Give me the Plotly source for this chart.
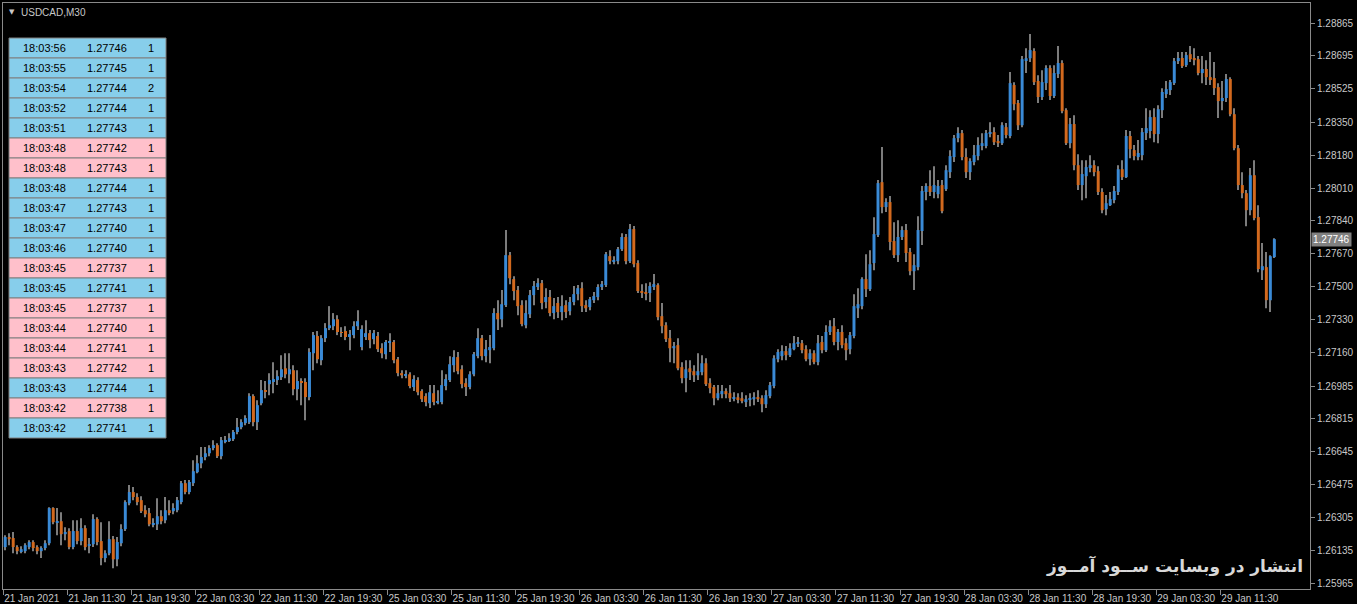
import plotly.graph_objects as go

# ---------------- data ----------------
opens = [1.26151,1.26203,1.26198,1.26151,1.26130,1.26130,1.26151,1.26177,1.26151,1.26130,
1.26146,1.26171,1.26353,1.26280,1.26285,1.26218,1.26234,1.26151,1.26234,1.26182,
1.26249,1.26161,1.26166,1.26296,1.26182,1.26094,1.26119,1.26192,1.26088,1.26171,
1.26244,1.26378,1.26436,1.26410,1.26394,1.26342,1.26327,1.26269,1.26269,1.26311,
1.26290,1.26342,1.26337,1.26342,1.26384,1.26482,1.26436,1.26482,1.26539,1.26585,
1.26617,1.26637,1.26664,1.26679,1.26622,1.26700,1.26705,1.26710,1.26747,1.26772,
1.26793,1.26798,1.26933,1.26798,1.26896,1.26964,1.26995,1.27006,1.27016,1.27031,
1.27077,1.27046,1.27067,1.26969,1.27011,1.27006,1.26928,1.27155,1.27244,1.27119,
1.27233,1.27285,1.27295,1.27331,1.27265,1.27270,1.27239,1.27249,1.27295,1.27187,
1.27239,1.27259,1.27228,1.27244,1.27181,1.27150,1.27213,1.27213,1.27124,1.27052,
1.27041,1.27046,1.26980,1.27016,1.26959,1.26933,1.26896,1.26948,1.26902,1.26902,
1.26985,1.27016,1.27093,1.27135,1.27072,1.27000,1.26980,1.27046,1.27140,1.27233,
1.27140,1.27171,1.27181,1.27363,1.27331,1.27404,1.27663,1.27539,1.27482,1.27404,
1.27300,1.27357,1.27456,1.27498,1.27518,1.27420,1.27446,1.27363,1.27415,1.27368,
1.27404,1.27373,1.27420,1.27461,1.27492,1.27404,1.27394,1.27430,1.27446,1.27498,
1.27508,1.27658,1.27632,1.27632,1.27694,1.27757,1.27632,1.27798,1.27622,1.27477,
1.27472,1.27467,1.27498,1.27508,1.27347,1.27300,1.27233,1.27181,1.27197,1.27083,
1.27026,1.27077,1.27062,1.27041,1.27057,1.27103,1.27000,1.26980,1.26922,1.26943,
1.26959,1.26948,1.26922,1.26927,1.26922,1.26902,1.26917,1.26917,1.26928,1.26922,
1.26891,1.26933,1.26985,1.27124,1.27140,1.27166,1.27145,1.27176,1.27207,1.27207,
1.27176,1.27124,1.27155,1.27109,1.27213,1.27171,1.27265,1.27295,1.27213,1.27265,
1.27207,1.27176,1.27244,1.27388,1.27399,1.27539,1.27487,1.27622,1.27767,1.28041,
1.27912,1.27938,1.27736,1.27663,1.27757,1.27793,1.27679,1.27580,1.27601,1.27788,
1.27990,1.28021,1.27990,1.27979,1.28026,1.28005,1.28093,1.28171,1.28269,1.28295,
1.28171,1.28093,1.28145,1.28176,1.28228,1.28228,1.28295,1.28300,1.28254,1.28243,
1.28326,1.28280,1.28544,1.28451,1.28336,1.28673,1.28683,1.28720,1.28565,1.28482,
1.28554,1.28632,1.28487,1.28601,1.28658,1.28414,1.28243,1.28342,1.28129,1.28026,
1.28072,1.28114,1.28129,1.28098,1.27990,1.27901,1.27922,1.27948,1.27990,1.28108,
1.28067,1.28280,1.28207,1.28171,1.28181,1.28295,1.28306,1.28378,1.28290,1.28414,
1.28497,1.28518,1.28554,1.28668,1.28684,1.28647,1.28704,1.28684,1.28678,1.28606,
1.28627,1.28585,1.28580,1.28533,1.28461,1.28477,1.28575,1.28393,1.28217,1.28026,
1.27984,1.27896,1.28077,1.27860,1.27585,1.27601,1.27430,1.27653]

highs = [1.26213,1.26223,1.26229,1.26161,1.26156,1.26171,1.26187,1.26187,1.26161,1.26156,
1.26187,1.26358,1.26358,1.26353,1.26332,1.26254,1.26249,1.26290,1.26290,1.26301,
1.26264,1.26198,1.26321,1.26306,1.26280,1.26135,1.26285,1.26208,1.26203,1.26269,
1.26394,1.26472,1.26462,1.26430,1.26415,1.26368,1.26353,1.26301,1.26404,1.26342,
1.26410,1.26394,1.26378,1.26410,1.26493,1.26498,1.26498,1.26601,1.26627,1.26669,
1.26669,1.26679,1.26705,1.26689,1.26721,1.26726,1.26741,1.26757,1.26819,1.26813,
1.26834,1.26948,1.26943,1.26912,1.27016,1.27011,1.27052,1.27109,1.27067,1.27145,
1.27155,1.27155,1.27093,1.27067,1.27026,1.27026,1.27181,1.27265,1.27270,1.27249,
1.27311,1.27399,1.27363,1.27352,1.27290,1.27295,1.27275,1.27321,1.27378,1.27300,
1.27326,1.27275,1.27275,1.27265,1.27207,1.27223,1.27259,1.27223,1.27135,1.27067,
1.27067,1.27057,1.27041,1.27031,1.26969,1.26948,1.26990,1.26990,1.26964,1.27067,
1.27046,1.27140,1.27171,1.27161,1.27093,1.27026,1.27062,1.27161,1.27285,1.27249,
1.27223,1.27249,1.27388,1.27430,1.27482,1.27793,1.27679,1.27554,1.27503,1.27430,
1.27430,1.27482,1.27529,1.27544,1.27534,1.27492,1.27482,1.27441,1.27446,1.27456,
1.27430,1.27446,1.27503,1.27508,1.27523,1.27430,1.27446,1.27472,1.27513,1.27529,
1.27679,1.27689,1.27658,1.27705,1.27777,1.27772,1.27824,1.27814,1.27637,1.27513,
1.27518,1.27523,1.27565,1.27518,1.27415,1.27316,1.27275,1.27213,1.27233,1.27109,
1.27119,1.27119,1.27093,1.27155,1.27145,1.27129,1.27026,1.26990,1.26990,1.26990,
1.26974,1.26990,1.26953,1.26948,1.26953,1.26938,1.26948,1.26953,1.26964,1.26938,
1.26964,1.27006,1.27145,1.27176,1.27197,1.27192,1.27207,1.27244,1.27239,1.27223,
1.27197,1.27176,1.27171,1.27249,1.27244,1.27300,1.27326,1.27337,1.27280,1.27300,
1.27233,1.27265,1.27461,1.27492,1.27549,1.27668,1.27689,1.27860,1.28052,1.28223,
1.27958,1.27969,1.27834,1.27844,1.27813,1.27824,1.27700,1.27668,1.27865,1.28021,
1.28036,1.28103,1.28124,1.28052,1.28052,1.28129,1.28207,1.28285,1.28326,1.28311,
1.28217,1.28165,1.28233,1.28274,1.28295,1.28311,1.28352,1.28326,1.28285,1.28352,
1.28347,1.28611,1.28559,1.28466,1.28694,1.28735,1.28808,1.28735,1.28595,1.28621,
1.28647,1.28647,1.28647,1.28746,1.28673,1.28424,1.28373,1.28388,1.28186,1.28155,
1.28155,1.28181,1.28155,1.28124,1.28010,1.27974,1.27990,1.28021,1.28129,1.28155,
1.28311,1.28306,1.28233,1.28259,1.28321,1.28424,1.28414,1.28424,1.28440,1.28528,
1.28565,1.28570,1.28684,1.28715,1.28715,1.28715,1.28746,1.28735,1.28694,1.28694,
1.28673,1.28715,1.28663,1.28554,1.28565,1.28601,1.28585,1.28424,1.28233,1.28093,
1.28000,1.28114,1.28155,1.27922,1.27726,1.27679,1.27663,1.27751]

lows = [1.26135,1.26161,1.26119,1.26114,1.26119,1.26119,1.26140,1.26130,1.26114,1.26094,
1.26135,1.26161,1.26269,1.26213,1.26161,1.26187,1.26140,1.26140,1.26166,1.26161,
1.26135,1.26119,1.26151,1.26161,1.26057,1.26073,1.26109,1.26041,1.26052,1.26156,
1.26234,1.26368,1.26394,1.26368,1.26327,1.26306,1.26259,1.26254,1.26239,1.26269,
1.26275,1.26316,1.26321,1.26332,1.26373,1.26425,1.26425,1.26467,1.26534,1.26560,
1.26601,1.26622,1.26653,1.26612,1.26606,1.26689,1.26695,1.26700,1.26736,1.26762,
1.26782,1.26788,1.26777,1.26757,1.26886,1.26922,1.26938,1.26948,1.26990,1.27016,
1.27026,1.27000,1.26938,1.26912,1.26886,1.26808,1.26912,1.27067,1.27103,1.27093,
1.27213,1.27275,1.27275,1.27249,1.27239,1.27223,1.27171,1.27233,1.27275,1.27171,
1.27223,1.27181,1.27202,1.27161,1.27129,1.27124,1.27161,1.27103,1.27036,1.27026,
1.27026,1.26974,1.26959,1.26938,1.26902,1.26881,1.26871,1.26886,1.26891,1.26891,
1.26964,1.27006,1.27057,1.27046,1.26974,1.26933,1.26969,1.27036,1.27129,1.27119,
1.27109,1.27103,1.27171,1.27275,1.27290,1.27394,1.27513,1.27430,1.27352,1.27295,
1.27285,1.27337,1.27404,1.27482,1.27383,1.27388,1.27347,1.27331,1.27337,1.27326,
1.27337,1.27352,1.27404,1.27430,1.27368,1.27368,1.27378,1.27415,1.27430,1.27482,
1.27498,1.27616,1.27616,1.27616,1.27684,1.27616,1.27622,1.27601,1.27467,1.27441,
1.27430,1.27420,1.27482,1.27326,1.27259,1.27213,1.27109,1.27103,1.27067,1.27000,
1.26953,1.27016,1.27006,1.27016,1.27041,1.26985,1.26948,1.26886,1.26912,1.26922,
1.26922,1.26902,1.26907,1.26896,1.26896,1.26876,1.26881,1.26886,1.26902,1.26850,
1.26871,1.26922,1.26974,1.27109,1.27119,1.27119,1.27135,1.27171,1.27187,1.27155,
1.27114,1.27093,1.27098,1.27093,1.27155,1.27161,1.27249,1.27197,1.27171,1.27181,
1.27119,1.27150,1.27233,1.27337,1.27383,1.27446,1.27477,1.27585,1.27757,1.27880,
1.27886,1.27689,1.27648,1.27627,1.27741,1.27627,1.27559,1.27482,1.27585,1.27715,
1.27948,1.27969,1.27958,1.27958,1.27880,1.27995,1.28062,1.28145,1.28248,1.28155,
1.28062,1.28052,1.28129,1.28155,1.28207,1.28217,1.28274,1.28233,1.28223,1.28233,
1.28269,1.28269,1.28414,1.28311,1.28326,1.28606,1.28663,1.28544,1.28451,1.28466,
1.28518,1.28466,1.28477,1.28580,1.28398,1.28233,1.28217,1.28103,1.28000,1.27948,
1.27958,1.28093,1.28072,1.27974,1.27880,1.27870,1.27917,1.27932,1.27974,1.28052,
1.28062,1.28165,1.28155,1.28155,1.28155,1.28259,1.28269,1.28248,1.28243,1.28373,
1.28477,1.28492,1.28544,1.28653,1.28632,1.28637,1.28663,1.28647,1.28595,1.28554,
1.28544,1.28544,1.28492,1.28373,1.28414,1.28456,1.28383,1.28207,1.28000,1.27958,
1.27813,1.27870,1.27844,1.27575,1.27534,1.27388,1.27368,1.27648]

closes = [1.26203,1.26192,1.26151,1.26130,1.26140,1.26161,1.26177,1.26146,1.26130,1.26146,
1.26171,1.26353,1.26280,1.26285,1.26218,1.26229,1.26151,1.26234,1.26182,1.26249,
1.26151,1.26166,1.26296,1.26177,1.26094,1.26119,1.26192,1.26088,1.26177,1.26244,
1.26384,1.26436,1.26410,1.26384,1.26337,1.26321,1.26269,1.26275,1.26311,1.26285,
1.26342,1.26332,1.26353,1.26394,1.26482,1.26436,1.26488,1.26544,1.26585,1.26617,
1.26637,1.26664,1.26679,1.26622,1.26705,1.26705,1.26715,1.26747,1.26772,1.26798,
1.26819,1.26933,1.26798,1.26886,1.26964,1.26959,1.27016,1.27021,1.27036,1.27072,
1.27046,1.27072,1.26969,1.27011,1.27006,1.26928,1.27161,1.27249,1.27124,1.27233,
1.27285,1.27300,1.27331,1.27265,1.27260,1.27239,1.27254,1.27295,1.27321,1.27280,
1.27259,1.27223,1.27259,1.27176,1.27155,1.27213,1.27218,1.27119,1.27052,1.27041,
1.27046,1.26985,1.27021,1.26953,1.26917,1.26902,1.26953,1.26902,1.26907,1.26990,
1.27021,1.27098,1.27135,1.27062,1.26995,1.26980,1.27046,1.27150,1.27233,1.27140,
1.27176,1.27187,1.27363,1.27331,1.27409,1.27663,1.27544,1.27477,1.27399,1.27306,
1.27363,1.27456,1.27503,1.27518,1.27415,1.27446,1.27363,1.27399,1.27368,1.27399,
1.27368,1.27420,1.27461,1.27492,1.27399,1.27388,1.27435,1.27451,1.27498,1.27513,
1.27668,1.27632,1.27637,1.27694,1.27757,1.27632,1.27798,1.27616,1.27477,1.27472,
1.27467,1.27503,1.27513,1.27342,1.27295,1.27228,1.27181,1.27192,1.27077,1.27026,
1.27072,1.27057,1.27041,1.27062,1.27103,1.26995,1.26974,1.26922,1.26948,1.26959,
1.26943,1.26922,1.26927,1.26917,1.26907,1.26917,1.26922,1.26928,1.26917,1.26891,
1.26938,1.26990,1.27129,1.27161,1.27166,1.27145,1.27181,1.27207,1.27213,1.27171,
1.27124,1.27155,1.27109,1.27207,1.27171,1.27265,1.27295,1.27213,1.27265,1.27197,
1.27171,1.27249,1.27399,1.27409,1.27539,1.27487,1.27616,1.27772,1.28036,1.27912,
1.27938,1.27731,1.27663,1.27757,1.27793,1.27674,1.27580,1.27611,1.27793,1.27995,
1.28021,1.27990,1.28026,1.28021,1.27891,1.28103,1.28176,1.28269,1.28295,1.28171,
1.28093,1.28150,1.28181,1.28233,1.28243,1.28295,1.28300,1.28248,1.28243,1.28336,
1.28285,1.28554,1.28445,1.28336,1.28678,1.28683,1.28725,1.28559,1.28482,1.28559,
1.28632,1.28487,1.28606,1.28658,1.28409,1.28243,1.28342,1.28129,1.28026,1.28083,
1.28119,1.28129,1.28093,1.27990,1.27896,1.27932,1.27953,1.27995,1.28108,1.28067,
1.28280,1.28212,1.28176,1.28192,1.28300,1.28321,1.28378,1.28290,1.28419,1.28508,
1.28523,1.28559,1.28668,1.28684,1.28642,1.28699,1.28678,1.28673,1.28606,1.28627,
1.28585,1.28570,1.28528,1.28461,1.28477,1.28575,1.28393,1.28217,1.28026,1.27984,
1.27896,1.28077,1.27855,1.27591,1.27606,1.27430,1.27658,1.27746]

x_tick_labels = ["21 Jan 2021", "21 Jan 11:30", "21 Jan 19:30", "22 Jan 03:30", "22 Jan 11:30",
                 "22 Jan 19:30", "25 Jan 03:30", "25 Jan 11:30", "25 Jan 19:30", "26 Jan 03:30",
                 "26 Jan 11:30", "26 Jan 19:30", "27 Jan 03:30", "27 Jan 11:30", "27 Jan 19:30",
                 "28 Jan 03:30", "28 Jan 11:30", "28 Jan 19:30", "29 Jan 03:30", "29 Jan 11:30"]
bars_per_label = 16

y_tick_values = [1.28865, 1.28695, 1.28525, 1.28350, 1.28180, 1.28010, 1.27840, 1.27670, 1.27500,
                 1.27330, 1.27160, 1.26985, 1.26815, 1.26645, 1.26475, 1.26305, 1.26135, 1.25965]

tick_times = ["18:03:56", "18:03:55", "18:03:54", "18:03:52", "18:03:51", "18:03:48", "18:03:48",
              "18:03:48", "18:03:47", "18:03:47", "18:03:46", "18:03:45", "18:03:45", "18:03:45",
              "18:03:44", "18:03:44", "18:03:43", "18:03:43", "18:03:42", "18:03:42"]
tick_prices = ["1.27746", "1.27745", "1.27744", "1.27744", "1.27743", "1.27742", "1.27743",
               "1.27744", "1.27743", "1.27740", "1.27740", "1.27737", "1.27741", "1.27737",
               "1.27740", "1.27741", "1.27742", "1.27744", "1.27738", "1.27741"]
tick_volumes = ["1", "1", "2", "1", "1", "1", "1", "1", "1", "1", "1", "1", "1", "1", "1", "1",
                "1", "1", "1", "1"]
tick_up = [True, True, True, True, True, False, False, True, True, True, True, False, True, False,
           False, False, False, True, False, True]

symbol_title = "USDCAD,M30"
watermark = "انتشار در وبسایت ســود آمــوز"

# ---------------- styling ----------------
W, H = 1357, 604
ML, MR, MT, MB = 3, 47, 3, 15
PW, PH = W - ML - MR, H - MT - MB
BLUE = "#3a8ad6"
ORANGE = "#d2691e"
WICK = "#7c7c7c"
AXIS = "#8a8a8a"
TEXT = "#c8c8c8"
FONT = "Liberation Sans"


def px_x(px):
    return (px - ML) / PW


def px_y(py):
    return 1 - (py - MT) / PH


n = len(closes)
idx = list(range(n))

fig = go.Figure()

# wicks (thin bars, drawn first)
fig.add_trace(go.Bar(x=idx, y=[highs[i] - lows[i] for i in idx], base=lows, width=0.26,
                     marker=dict(color=WICK, line=dict(width=0)), hoverinfo="skip"))

# bodies
min_body = 0.00005
base, height, colors = [], [], []
for i in idx:
    lo = min(opens[i], closes[i])
    hi = max(opens[i], closes[i])
    if hi - lo >= min_body:
        base.append(lo)
        height.append(hi - lo)
    else:
        base.append((lo + hi) / 2 - min_body / 2)
        height.append(min_body)
    colors.append(BLUE if closes[i] >= opens[i] else ORANGE)
fig.add_trace(go.Bar(x=idx, y=height, base=base, width=0.74,
                     marker=dict(color=colors, line=dict(width=0)), hoverinfo="skip"))

# ---------------- axes ----------------
tickvals_x = [k * bars_per_label - 0.5 for k in range(len(x_tick_labels))]
fig.update_xaxes(range=[-0.55, 325.9], tickmode="array", tickvals=tickvals_x, ticktext=x_tick_labels,
                 ticks="outside", ticklen=5, tickcolor=AXIS, ticklabelposition="outside right",
                 tickangle=0, automargin=False,
                 tickfont=dict(family=FONT, size=10, color=TEXT), showgrid=False, zeroline=False,
                 showline=True, linecolor=AXIS, linewidth=1, mirror=True)
fig.update_yaxes(range=[1.25934, 1.28969], side="right", tickmode="array", tickvals=y_tick_values,
                 ticktext=[f"{v:.5f}" for v in y_tick_values], ticks="outside", ticklen=4,
                 automargin=False,
                 tickcolor=AXIS, tickfont=dict(family=FONT, size=10, color=TEXT), showgrid=False,
                 zeroline=False, showline=True, linecolor=AXIS, linewidth=1, mirror=True)

# ---------------- overlays ----------------
shapes, annotations = [], []
tx0, tx1, ty0, row_h = 9, 166, 38, 20
for r in range(len(tick_times)):
    top = ty0 + r * row_h
    shapes.append(dict(type="rect", xref="paper", yref="paper",
                       x0=px_x(tx0), x1=px_x(tx1), y0=px_y(top + row_h), y1=px_y(top),
                       fillcolor="#87ceeb" if tick_up[r] else "#ffc0cb",
                       line=dict(color="#7f7f7f", width=1), layer="above"))
    cy = px_y(top + row_h / 2)
    for cx, txt in ((44, tick_times[r]), (107, tick_prices[r]), (151, tick_volumes[r])):
        annotations.append(dict(xref="paper", yref="paper", x=px_x(cx), y=cy, text=txt,
                                showarrow=False, xanchor="center", yanchor="middle",
                                font=dict(family=FONT, size=11, color="#000000")))

annotations.append(dict(xref="paper", yref="paper", x=px_x(19), y=px_y(12),
                        text=symbol_title, showarrow=False, xanchor="left", yanchor="middle",
                        font=dict(family=FONT, size=10, color=TEXT)))
annotations.append(dict(xref="paper", yref="paper", x=px_x(7), y=px_y(12),
                        text="▼", showarrow=False, xanchor="left", yanchor="middle",
                        font=dict(family="DejaVu Sans", size=7, color=TEXT)))
annotations.append(dict(xref="paper", yref="y", x=1, xshift=1, y=closes[-1], text=f"{closes[-1]:.5f}",
                        showarrow=False, xanchor="left", yanchor="middle", bgcolor="#808080",
                        borderpad=1, font=dict(family=FONT, size=10, color="#ffffff")))
annotations.append(dict(xref="paper", yref="paper", x=px_x(1305), y=px_y(566),
                        text=f"<b>{watermark}</b>", showarrow=False, xanchor="right", yanchor="middle",
                        font=dict(family="DejaVu Sans", size=17, color="#d8d8d8")))

fig.update_layout(width=W, height=H,
                  margin=dict(l=ML, r=MR, t=MT, b=MB, pad=0, autoexpand=False),
                  paper_bgcolor="#000000",
                  plot_bgcolor="#000000", showlegend=False, barmode="overlay", shapes=shapes,
                  annotations=annotations, hovermode=False)

fig.write_html("out.html", config={"displayModeBar": False},
               post_script="document.body.style.margin='0';document.body.style.background='#000';"
                           "document.body.style.overflow='hidden';")
